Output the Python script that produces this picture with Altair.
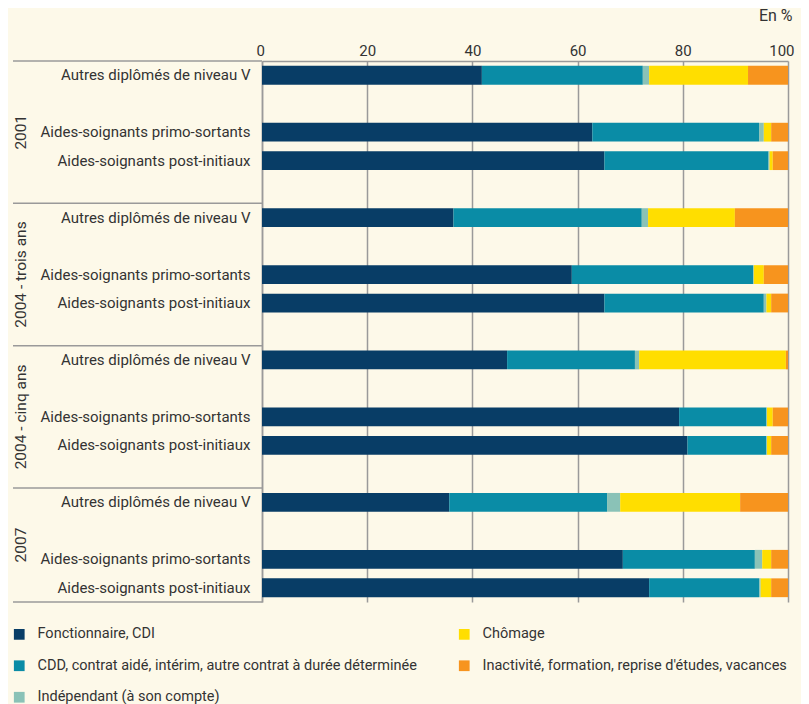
import altair as alt
import pandas as pd

FONT = "Roboto"
BG = "#fdf9e9"
GRID = "#9a9a9a"
TXT = "#333333"

groups = ["2001", "2004 - trois ans", "2004 - cinq ans", "2007"]
populations = [
    "Autres diplômés de niveau V",
    "Aides-soignants primo-sortants",
    "Aides-soignants post-initiaux",
]
statuses = [
    "Fonctionnaire, CDI",
    "CDD, contrat aidé, intérim, autre contrat à durée déterminée",
    "Indépendant (à son compte)",
    "Chômage",
    "Inactivité, formation, reprise d'études, vacances",
]
status_colors = ["#083d66", "#0a8ca6", "#8ac2b7", "#ffde00", "#f7941e"]

# values in %, order: group x population
fonctionnaire = [41.8, 62.8, 65.1, 36.4, 58.9, 65.1, 46.6, 79.3, 80.9, 35.6, 68.6, 73.6]
cdd = [30.6, 31.7, 31.2, 35.8, 34.5, 30.3, 24.3, 16.6, 15.0, 30.0, 25.1, 20.9]
independant = [1.2, 0.9, 0.2, 1.2, 0.1, 0.5, 0.8, 0.1, 0.1, 2.5, 1.4, 0.3]
chomage = [18.8, 1.4, 0.6, 16.5, 1.9, 0.9, 27.9, 1.1, 0.8, 22.8, 1.7, 2.0]
inactivite = [7.6, 3.2, 2.9, 10.1, 4.6, 3.2, 0.4, 2.9, 3.2, 9.1, 3.2, 3.2]
series = [fonctionnaire, cdd, independant, chomage, inactivite]

x_ticks = [0, 20, 40, 60, 80, 100]

rows = []
k = 0
for g in groups:
    for p in populations:
        for si, s in enumerate(statuses):
            rows.append({"slot": f"{g}|{p}", "status": s, "ord": si, "value": series[si][k]})
        k += 1
df = pd.DataFrame(rows)

slot_domain = []
for gi, g in enumerate(groups):
    slot_domain += [f"{g}|{populations[0]}", f"{g}|", f"{g}|{populations[1]}", f"{g}|{populations[2]}"]
    if gi < len(groups) - 1:
        slot_domain.append(f"{g}| ")

yscale = alt.Scale(domain=slot_domain, paddingInner=0, paddingOuter=0)

bars = alt.Chart(df).mark_bar(height=alt.RelativeBandSize(0.66)).encode(
    x=alt.X(
        "value:Q",
        stack="zero",
        scale=alt.Scale(domain=[0, 100], nice=False),
        axis=alt.Axis(
            orient="top", values=x_ticks, grid=True, gridColor=GRID, gridWidth=1.5,
            ticks=False, domain=True, domainColor=GRID, domainWidth=1.5,
            labelPadding=3, labelFontSize=15, labelColor=TXT, labelFont=FONT,
            labelFlush=True, labelFlushOffset=6,
            title="En %", titleAnchor="end", titleAlign="right", titleX=530, titleY=-46,
            titleBaseline="middle", titleFontWeight="normal", titleFontSize=16,
            titleColor=TXT, titleFont=FONT,
        ),
    ),
    y=alt.Y(
        "slot:N", scale=yscale,
        axis=alt.Axis(
            title=None, ticks=False, domain=True, domainColor=GRID, domainWidth=1.5,
            labelExpr="split(datum.value, '|')[1]", labelPadding=12, labelFontSize=15,
            labelColor=TXT, labelFont=FONT, labelLimit=400,
        ),
    ),
    color=alt.Color(
        "status:N",
        scale=alt.Scale(domain=statuses, range=status_colors),
        legend=alt.Legend(
            title=None, orient="none", legendX=-250, legendY=566, columns=2,
            symbolType="square", symbolSize=115, symbolStrokeWidth=0,
            labelFontSize=14.5, labelFont=FONT, labelColor=TXT, labelOffset=11,
            rowPadding=16.5, columnPadding=40, labelLimit=600,
        ),
    ),
    order=alt.Order("ord:Q"),
)

group_first = pd.DataFrame({"slot": [f"{g}|{populations[0]}" for g in groups]})
sep_top = alt.Chart(group_first).mark_rule(color=GRID, strokeWidth=1.5).encode(
    y=alt.Y("slot:N", scale=yscale, bandPosition=0, title=None),
    x=alt.value(-249), x2=alt.value(0),
)
last_slot = pd.DataFrame({"slot": [slot_domain[-1]]})
sep_bottom = alt.Chart(last_slot).mark_rule(color=GRID, strokeWidth=1.5).encode(
    y=alt.Y("slot:N", scale=yscale, bandPosition=1, title=None),
    x=alt.value(-249), x2=alt.value(0),
)

glab_full = pd.DataFrame({
    "slot": [f"{g}|{populations[1]}" for g in groups[:-1]],
    "label": groups[:-1],
})
glab_last = pd.DataFrame({"slot": [f"{groups[-1]}|{populations[1]}"], "label": [groups[-1]]})
text_kw = dict(angle=270, align="center", baseline="middle", fontSize=15.5, font=FONT, color=TXT)
glabels1 = alt.Chart(glab_full).mark_text(**text_kw).encode(
    y=alt.Y("slot:N", scale=yscale, bandPosition=0.5, title=None),
    x=alt.value(-241), text="label:N",
)
glabels2 = alt.Chart(glab_last).mark_text(**text_kw).encode(
    y=alt.Y("slot:N", scale=yscale, bandPosition=0, title=None),
    x=alt.value(-241), text="label:N",
)

chart = alt.layer(bars, sep_top, sep_bottom, glabels1, glabels2).properties(
    width=526, height=541,
    autosize=alt.AutoSizeParams(type="none"),
    padding={"left": 254, "top": 53, "right": 13, "bottom": 102},
    background=BG,
).configure_view(stroke=None)

chart.save("out.html", embed_options={"renderer": "svg", "actions": False})
